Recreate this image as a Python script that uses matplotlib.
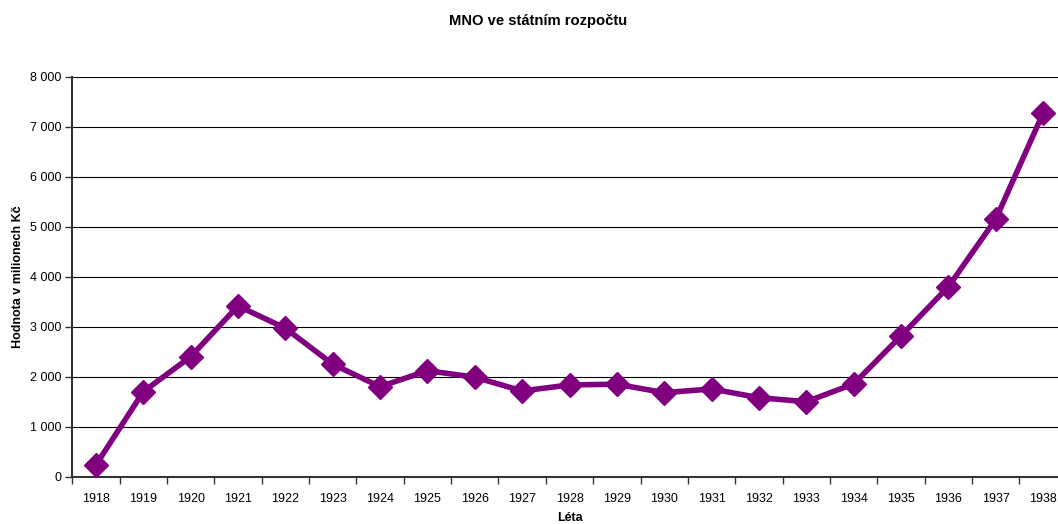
import matplotlib
matplotlib.use("Agg")
import matplotlib.pyplot as plt
from matplotlib.ticker import FuncFormatter, FixedLocator, NullFormatter

plt.rcParams['font.family'] = ['Liberation Sans', 'DejaVu Sans']

years = ["1918", "1919", "1920", "1921", "1922", "1923", "1924", "1925", "1926", "1927",
         "1928", "1929", "1930", "1931", "1932", "1933", "1934", "1935", "1936", "1937", "1938"]
values = [235, 1700, 2400, 3415, 2970, 2250, 1800, 2120, 1990, 1715,
          1835, 1850, 1680, 1755, 1580, 1500, 1855, 2815, 3800, 5150, 7270]
y_ticks = [0, 1000, 2000, 3000, 4000, 5000, 6000, 7000, 8000]

fig = plt.figure(figsize=(10.58, 5.24), dpi=100)
ax = fig.add_axes([0.0683, 0.0903, 0.940, 0.7633])

x = list(range(len(years)))
ax.plot(x, values, color='#800080', linewidth=4, marker='D', markersize=12,
        markerfacecolor='#800080', markeredgecolor='#800080', clip_on=False, zorder=3)

ax.set_xlim(-0.5, len(years) - 0.5)
ax.set_ylim(0, 8000)
ax.set_yticks(y_ticks)
ax.yaxis.set_major_formatter(FuncFormatter(lambda v, p: f"{int(v):,}".replace(",", " ")))
ax.grid(axis='y', color='black', linewidth=0.8)
ax.set_axisbelow(True)

ax.set_xticks(x)
ax.set_xticklabels(years)
ax.tick_params(axis='x', which='major', length=0, pad=12, labelsize=9)
ax.xaxis.set_minor_locator(FixedLocator([i - 0.5 for i in range(len(years) + 1)]))
ax.xaxis.set_minor_formatter(NullFormatter())
ax.tick_params(axis='x', which='minor', length=5, width=1, color='#333333')
ax.tick_params(axis='y', length=5, width=1, color='#333333', labelsize=9, pad=3)

for s in ['top', 'right']:
    ax.spines[s].set_visible(False)
for s in ['left', 'bottom']:
    ax.spines[s].set_color('#333333')
    ax.spines[s].set_linewidth(1.5)

ax.set_ylabel("Hodnota v milionech Kč", fontsize=9, fontweight='bold', labelpad=4)
ax.set_xlabel("Léta", fontsize=9, fontweight='bold', labelpad=5)
fig.text(538 / 1058, 1 - 21 / 524, "MNO ve státním rozpočtu", ha='center', va='center',
         fontsize=10.6, fontweight='bold')

fig.savefig("out.png", dpi=100)
